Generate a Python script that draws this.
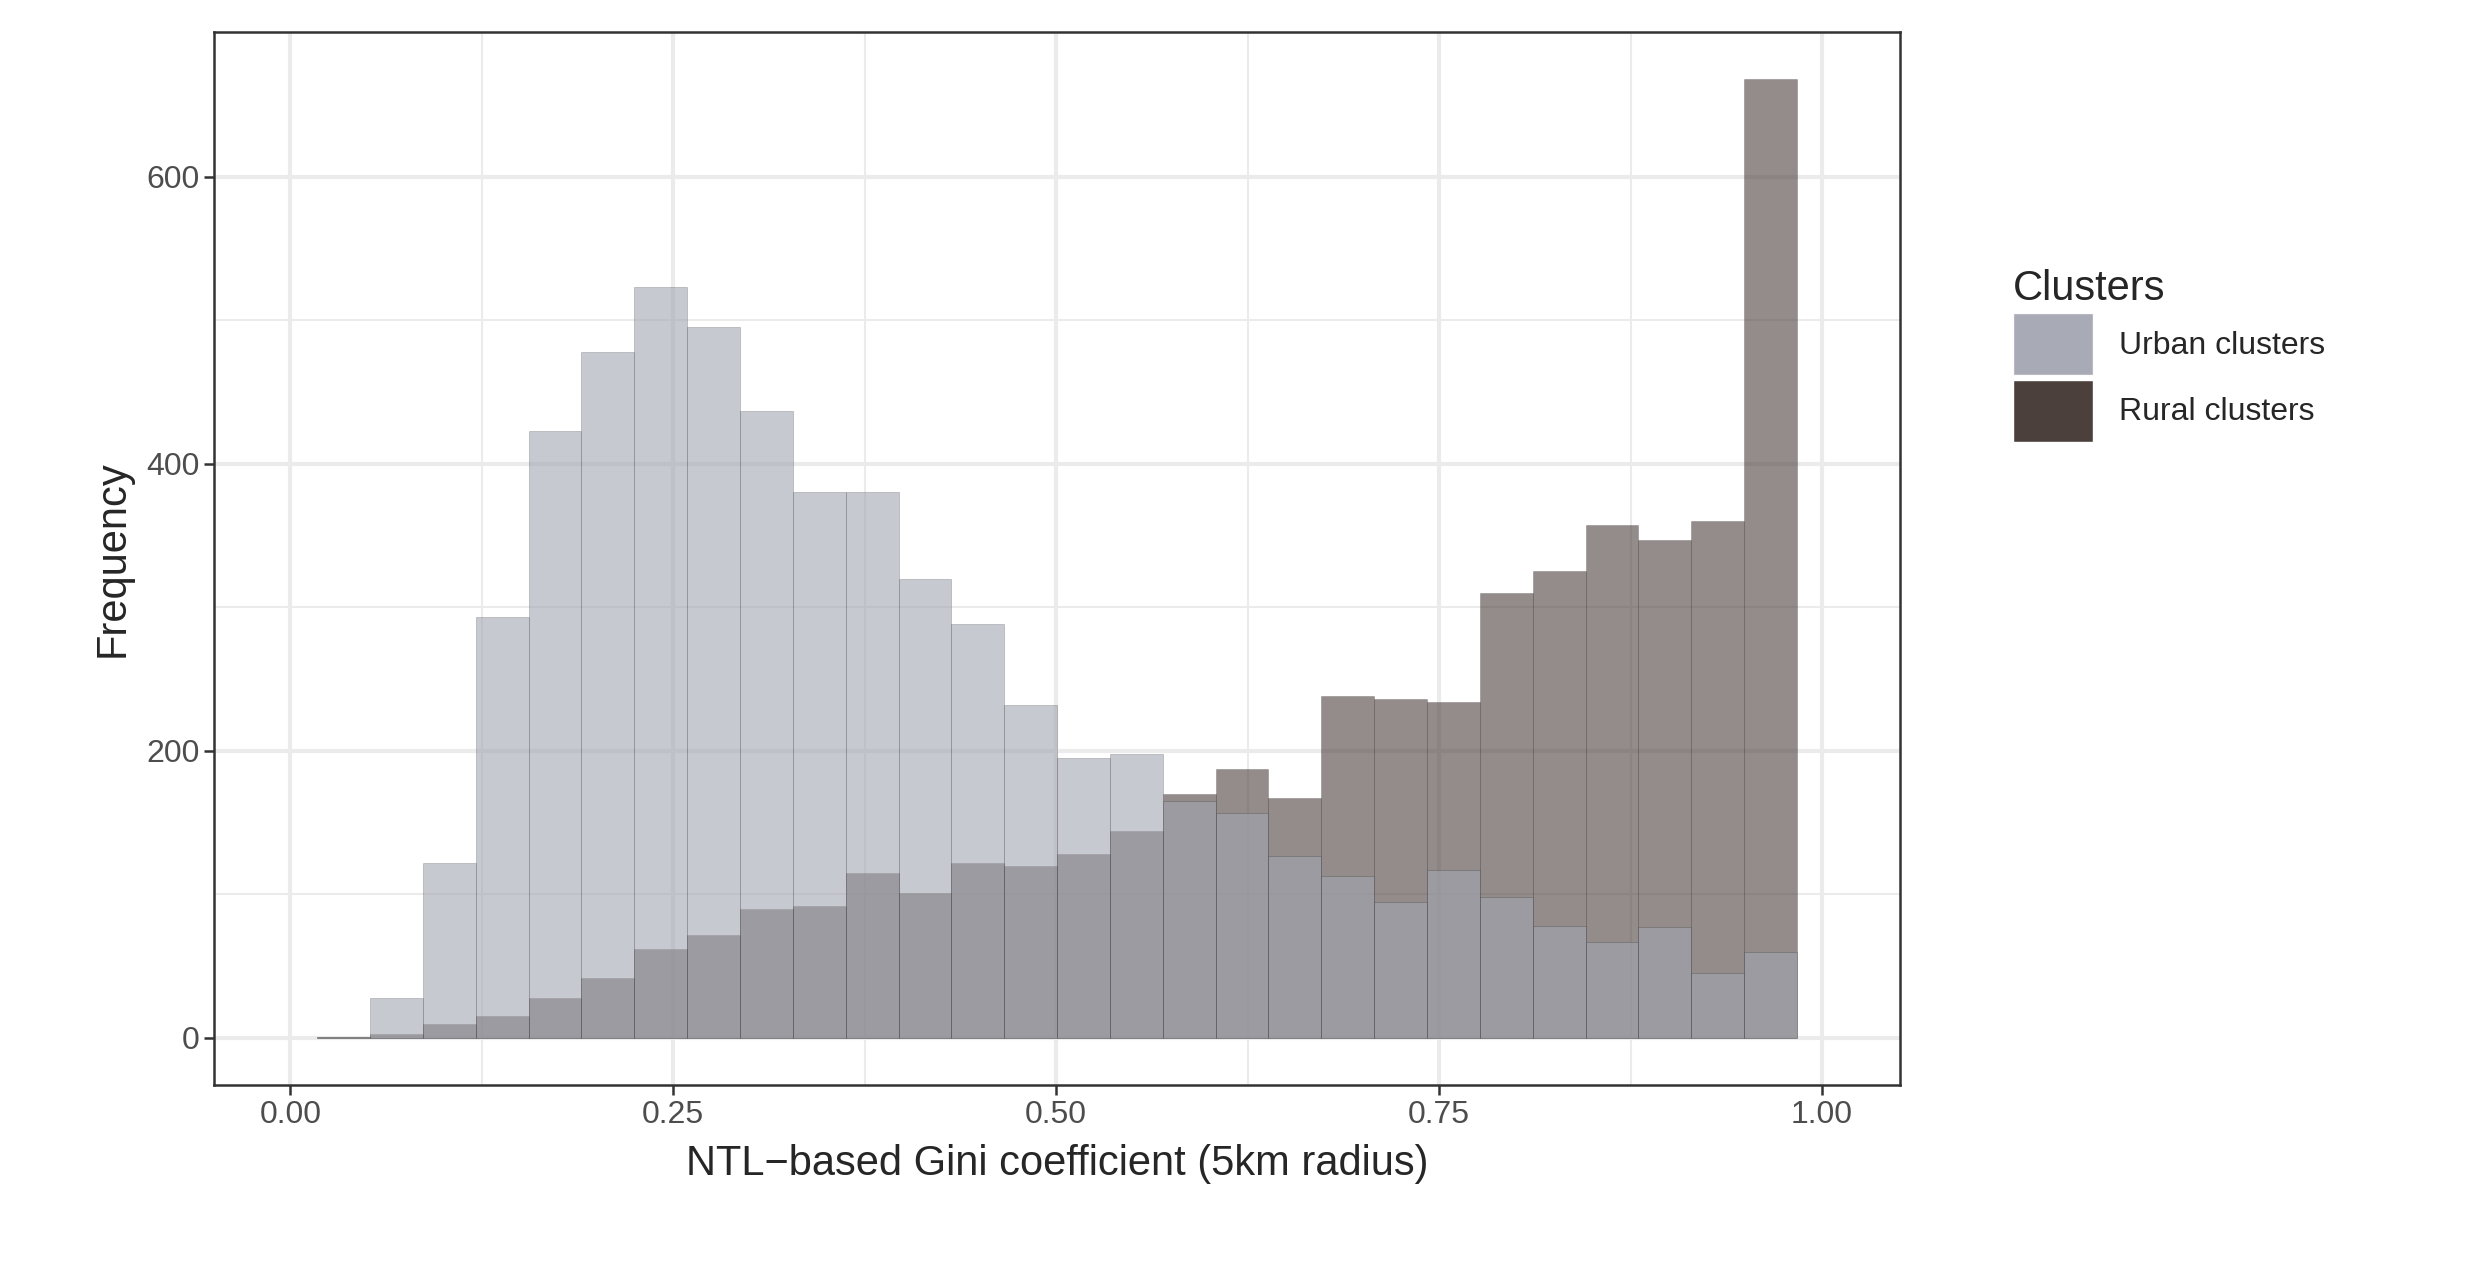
import numpy as np, pandas as pd, seaborn as sns, matplotlib.pyplot as plt
from matplotlib.patches import Patch

start, width, nbins = 0.0176, 0.0345, 28
urban = [1,28,122,293,423,478,523,495,437,380,380,320,288,232,195,198,165,157,127,113,95,117,98,78,67,77,45,60]
rural = [1,3,10,15,28,42,62,72,90,92,115,101,122,120,128,144,170,187,167,238,236,234,310,325,357,347,360,668]
edges = list(start + width*np.arange(nbins+1))
centers = [(edges[i]+edges[i+1])/2 for i in range(nbins)]
df = pd.DataFrame({"x": centers + centers,
                   "w": urban + rural,
                   "Clusters": ["Urban clusters"]*nbins + ["Rural clusters"]*nbins})

sns.set_theme(style="white")
plt.rcParams['font.family'] = ['Liberation Sans', 'DejaVu Sans']
fig = plt.figure(figsize=(24.9, 12.62), dpi=100)
ax = fig.add_axes([0.086, 0.14, 0.677, 0.835])
pal = {"Urban clusters": "#a3a6b1", "Rural clusters": "#4b403c"}
sns.histplot(data=df, x="x", weights="w", hue="Clusters", binwidth=width, binrange=(edges[0], edges[-1]),
             palette=pal, alpha=0.6, multiple="layer", edgecolor="#00000033", linewidth=0.6, ax=ax, legend=False)
ax.set_xlim(-0.0497, 1.0508); ax.set_ylim(-33, 701)
ax.set_xticks([0, .25, .5, .75, 1.0]); ax.set_xticklabels(["0.00","0.25","0.50","0.75","1.00"])
ax.set_yticks([0, 200, 400, 600])
ax.set_xticks([.125, .375, .625, .875], minor=True); ax.set_yticks([100, 300, 500], minor=True)
ax.grid(which="major", color="#ebebeb", linewidth=3); ax.grid(which="minor", color="#ebebeb", linewidth=1.5)
ax.set_axisbelow(True)
for s in ax.spines.values(): s.set_color("#333333"); s.set_linewidth(1.8)
ax.tick_params(axis="both", labelsize=23, labelcolor="#4d4d4d", length=7, width=1.8, color="#333333", direction="out",
               bottom=True, left=True)
ax.tick_params(which="minor", length=0)
ax.set_xlabel("NTL\u2212based Gini coefficient (5km radius)", fontsize=30, labelpad=10)
ax.set_ylabel("Frequency", fontsize=30, labelpad=10)
handles = [Patch(facecolor="#a3a6b1", alpha=0.95), Patch(facecolor="#4b403c")]
leg = fig.legend(handles, ["Urban clusters", "Rural clusters"], title="Clusters", loc="upper left",
                 bbox_to_anchor=(0.797, 0.81), frameon=False, fontsize=23, title_fontsize=30,
                 handlelength=2.5, handleheight=2.6, labelspacing=0.15, handletextpad=0.8)
leg._legend_box.align = "left"
fig.savefig("out.png", dpi=100)
